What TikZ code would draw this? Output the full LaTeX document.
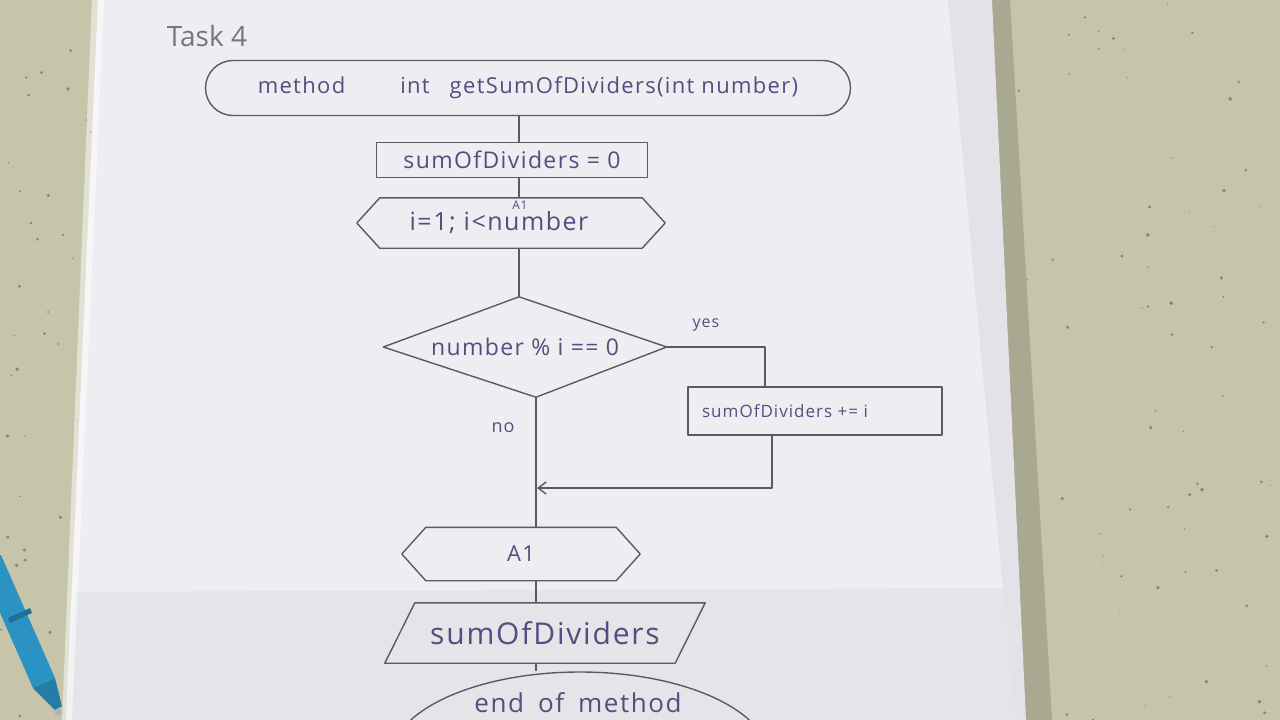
\documentclass[tikz,border=0pt]{standalone}
\usepackage{fontspec}
\setmainfont{Open Sans}
\newfontfamily\hand[LetterSpace=6]{Open Sans}
\usetikzlibrary{arrows.meta,calc,shapes.misc,shapes.geometric}
\definecolor{bgc}{HTML}{C6C5A9}
\definecolor{speck}{HTML}{6F6D55}
\definecolor{paper}{HTML}{EDEDF2}
\definecolor{paperlow}{HTML}{E4E5E8}
\definecolor{sheetb}{HTML}{E2E2E8}
\definecolor{shadowc}{HTML}{A9A890}
\definecolor{inkc}{HTML}{5C5868}
\definecolor{txtc}{HTML}{5A4B7E}
\definecolor{pencil}{HTML}{77767E}
\definecolor{penblue}{HTML}{2A93C4}
\definecolor{pendark}{HTML}{1F6F99}
\begin{document}
\begin{tikzpicture}[x=1pt,y=-1pt,
  ink/.style={draw=inkc, line width=1.4pt, line join=round},
  lbl/.style={text=txtc, inner sep=0pt, font=\hand\fontsize{18}{18}\selectfont},
  proc/.style={ink, rectangle, inner sep=0pt, text=txtc},
  shapebox/.style={rectangle, inner sep=0pt, text=txtc},
  term/.style={ink, rounded rectangle, inner sep=0pt, text=txtc},
  endterm/.style={ink, ellipse, inner sep=0pt}
]
\clip (0,0) rectangle (1280,720);
% table surface
\fill[bgc] (0,0) rectangle (1280,720);
\pgfmathsetseed{11}
\foreach \i in {1,...,420}{
  \pgfmathsetmacro\xx{rnd*1280}
  \pgfmathsetmacro\yy{rnd*720}
  \pgfmathsetmacro\rr{0.5+rnd*1.5}
  \fill[speck, opacity=0.7] (\xx,\yy) circle (\rr);
}
% sheets of paper
\fill[shadowc] (985,0) -- (1010,0) -- (1052,720) -- (1022,720) -- cycle;
\fill[sheetb] (940,0) -- (992,0) -- (1026,720) -- (1008,720) -- cycle;
\fill[paper] (98,0) -- (948,0) -- (1015,720) -- (66,720) -- cycle;
\fill[paperlow] (75,592) -- (1004,588) -- (1015,720) -- (66,720) -- cycle;
\fill[white, opacity=0.5] (92,0) -- (104,0) -- (72,720) -- (62,720) -- cycle;
% pen
\fill[penblue] (-21,565) -- (1,555) -- (55,678) -- (33,688) -- cycle;
\fill[pendark] (8,618) -- (30,608) -- (32,613) -- (10,623) -- cycle;
\fill[penblue!85!black] (33,688) -- (55,678) -- (62,706) -- (55,710) -- cycle;
\fill[gray!60] (58,712) circle (3.5);

% flowchart
\coordinate (colA) at (519,0);
\coordinate (colB) at (536,0);
\coordinate (colY) at (765,0);
\coordinate (colZ) at (772,0);
\coordinate (merge) at (537,488);

\node[text=pencil, inner sep=0pt, font=\fontsize{28}{28}\selectfont] (task) at (207,36) {Task 4};

\node[term, minimum width=645, minimum height=55, font=\hand\fontsize{22}{22}\selectfont] (start) at (528,88)
  {method\hspace{55pt}int\hspace{20pt}getSumOfDividers(int number)};

\node[proc, minimum width=271, minimum height=35, font=\hand\fontsize{23}{23}\selectfont] (init) at (512,160) {sumOfDividers = 0};

\node[shapebox, minimum width=308, minimum height=50, font=\hand\fontsize{25}{25}\selectfont] (loop) at (511,223) {i=1; i<number\hspace{24pt}\mbox{}};
\draw[ink] ([xshift=23]loop.north west) -- ([xshift=-23]loop.north east) -- (loop.east)
  -- ([xshift=-23]loop.south east) -- ([xshift=23]loop.south west) -- (loop.west) -- cycle;
\node[lbl, font=\hand\fontsize{12}{12}\selectfont] (loopA) at (520,205) {A1};

\node[shapebox, minimum width=283, minimum height=100, font=\hand\fontsize{23}{23}\selectfont] (cond) at (525,347) {number \% i == 0};
\draw[ink] (cond.north -| colA) -- (cond.east) -- (cond.south -| colB) -- (cond.west) -- cycle;

\node[proc, minimum width=254, minimum height=48, font=\hand\fontsize{17}{17}\selectfont] (inc) at (815,411) {sumOfDividers += i\hspace{60pt}\mbox{}};

\node[shapebox, minimum width=238, minimum height=53, font=\hand\fontsize{22}{22}\selectfont] (endl) at (521,554) {A1};
\draw[ink] ([xshift=24]endl.north west) -- ([xshift=-24]endl.north east) -- (endl.east)
  -- ([xshift=-24]endl.south east) -- ([xshift=24]endl.south west) -- (endl.west) -- cycle;

\node[shapebox, minimum width=320, minimum height=60, font=\hand\fontsize{30}{30}\selectfont] (out) at (545,633) {sumOfDividers};
\draw[ink] ([xshift=30]out.north west) -- (out.north east) -- ([xshift=-30]out.south east) -- (out.south west) -- cycle;

\node[endterm, minimum width=380, minimum height=176] (end) at (580,760) {};
\node[lbl, font=\hand\fontsize{26}{26}\selectfont] (endtxt) at (578,703) {end\hspace{14pt}of\hspace{14pt}method};

% connectors
\draw[ink] (start.south -| colA) -- (init.north -| colA);
\draw[ink] (init.south -| colA) -- (loop.north -| colA);
\draw[ink] (loop.south -| colA) -- (cond.north -| colA);
\draw[ink] (cond.east) -| (inc.north -| colY);
\node[lbl, font=\hand\fontsize{16}{16}\selectfont] (yes) at (706,325) {yes};
\draw[ink] (cond.south -| colB) -- (endl.north -| colB);
\node[lbl, font=\hand\fontsize{18}{18}\selectfont] (no) at (503,428) {no};
\draw[ink, -{Straight Barb[length=8pt,width=12pt]}] (inc.south -| colZ) |- (merge);
\draw[ink] (endl.south -| colB) -- (out.north -| colB);
\draw[ink] (out.south -| colB) -- (end.north -| colB);
\end{tikzpicture}
\end{document}
